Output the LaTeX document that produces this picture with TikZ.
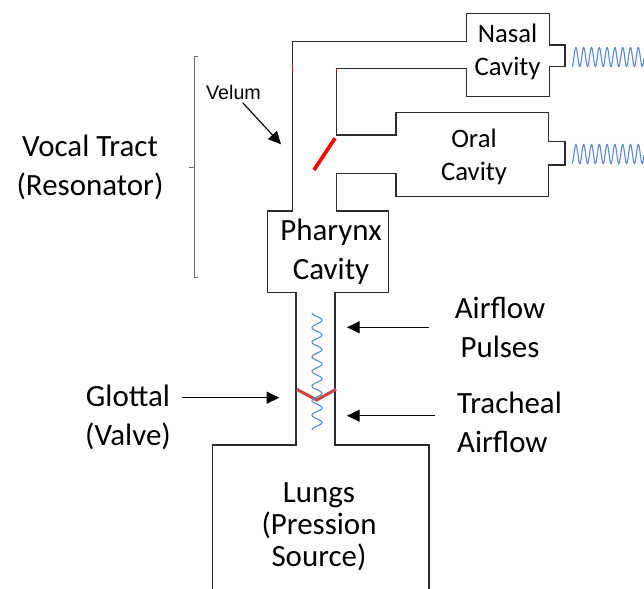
\documentclass[tikz,border=0pt]{standalone}
\usepackage{fontspec}
\setmainfont{Carlito}
\newfontfamily\velumfont{Liberation Sans}
\definecolor{tractLine}{RGB}{45,45,45}
\definecolor{braceGray}{RGB}{110,110,110}
\definecolor{waveBlue}{RGB}{91,140,207}
\definecolor{velumRed}{RGB}{250,0,0}
\definecolor{glottRed}{RGB}{200,70,70}
\usetikzlibrary{arrows.meta,positioning}

\begin{document}
\begin{tikzpicture}[x=0.025cm, y=-0.025cm,
  wall/.style={draw=tractLine, line width=0.9pt, line join=miter},
  lbl/.style={font=\fontsize{22}{27.7}\selectfont, align=center, inner sep=0pt},
  cav/.style={font=\fontsize{19}{23}\selectfont, align=center, inner sep=0pt},
  pointer/.style={-{Triangle[length=9pt,width=8.5pt]}, line width=0.8pt},
  wave/.style={waveBlue, line width=0.8pt}
]
  \useasboundingbox (0,0) rectangle (644,589);

  % tract outline
  \draw[wall] (212.7,589) -- (212.7,445) -- (296,445) -- (296,292.7) -- (267.3,292.7)
    -- (267.3,211) -- (292.7,211) -- (292.7,41.7) -- (466.7,41.7) -- (466.7,13.3)
    -- (549.3,13.3) -- (549.3,45) -- (565,45) -- (565,66.7) -- (549.3,66.7)
    -- (549.3,96.7) -- (466.7,96.7) -- (466.7,68.3) -- (336.3,68.3) -- (336.3,135)
    -- (396,135) -- (396,112.3) -- (548.7,112.3) -- (548.7,141.7) -- (565,141.7)
    -- (565,165) -- (548.7,165) -- (548.7,196.7) -- (396,196.7) -- (396,173.3)
    -- (336.3,173.3) -- (336.3,211) -- (388.3,211) -- (388.3,292.7) -- (335,292.7)
    -- (335,445) -- (429,445) -- (429,589);
  \draw[velumRed, line width=1pt] (292.7,66) -- (292.7,72) (336.3,68.8) -- (336.3,72.5);
  \draw[velumRed, line width=2.6pt] (335,138.3) -- (314,170);
  \draw[glottRed, line width=2.2pt] (296.7,389.3) -- (316.7,400) -- (336,389.3);

  % waves
  \draw[wave] plot[domain=572:644, samples=200] (\x, {57+9.5*cos((\x-572)/7.8*360)});
  \draw[wave] plot[domain=572:644, samples=200] (\x, {154+9.5*cos((\x-572)/7.8*360)});
  \draw[wave] plot[domain=313:430, samples=200] ({317-5*cos((\x-313)/14.6*360)}, \x);

  % bracket
  \draw[braceGray, line width=0.8pt] (198,56.7) -- (194.3,56.7) -- (194.3,277.7) -- (198,277.7)
    (194.3,167.3) -- (189,167.3);

  \node[cav] (nasal) at (507.5,52) {Nasal\\Cavity};
  \node[cav] (oral)  at (474,157)  {Oral\\Cavity};
  \node[lbl] (pharynx) at (331,252) {Pharynx\\Cavity};
  \node[lbl, font=\fontsize{22}{22.8}\selectfont] (lungs) at (319,527) {Lungs\\(Pression\\Source)};
  \node[lbl] (vocal)    at (90,167.5)  {Vocal Tract\\(Resonator)};
  \node[lbl] (glottal)  at (128,417)   {Glottal\\(Valve)};
  \node[lbl] (pulses)   at (500,327.5) {Airflow\\Pulses};
  \node[lbl, align=left] (tracheal) at (509.5,422.5) {Tracheal\\Airflow};
  \node[font=\velumfont\fontsize{14}{17}\selectfont, inner sep=1pt] (velum) at (233.5,92.7) {Velum};

  \coordinate (velumtip)  at (281,144.3);
  \coordinate (pulsestip) at (347,327.3);
  \coordinate (trachtip)  at (347,415.7);
  \coordinate (glottip)   at (279.3,397.7);

  \draw[pointer, shorten <=1pt] (velum) -- (velumtip);
  \draw[pointer, shorten <=17.8pt] (pulses.west |- pulsestip) -- (pulsestip);
  \draw[pointer, shorten <=15.6pt] (tracheal.west |- trachtip) -- (trachtip);
  \draw[pointer, shorten <=7.8pt] (glottal.east |- glottip) -- (glottip);
\end{tikzpicture}
\end{document}
